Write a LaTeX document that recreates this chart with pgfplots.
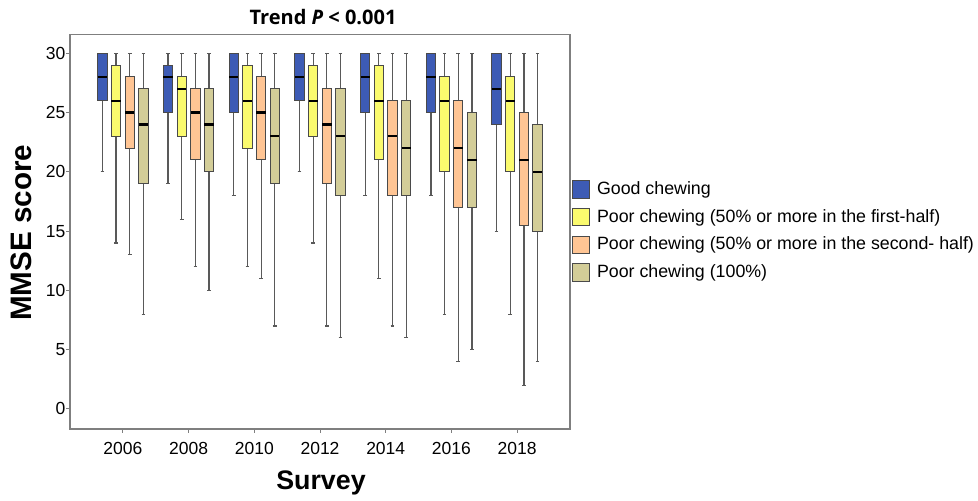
\documentclass[border=0pt]{standalone}
\usepackage{fontspec}
\setmainfont{Liberation Sans}
\newfontfamily\titlefont{Open Sans}
\usepackage{pgfplots}
\pgfplotsset{compat=1.18}
\usepgfplotslibrary{statistics}
\definecolor{cblue}{HTML}{3D5BB5}
\definecolor{cyel}{HTML}{FAFA6E}
\definecolor{cora}{HTML}{FFC594}
\definecolor{coli}{HTML}{D3CD98}
\definecolor{frame}{HTML}{7F7F7F}
\definecolor{bord}{HTML}{4A4A4A}
% colour, position, lower whisker, lower quartile, median, upper quartile, upper whisker
\newcommand{\bx}[7]{\addplot[forget plot, fill=#1, draw=bord, line width=0.5pt,
  boxplot prepared={draw position=#2, lower whisker=#3, lower quartile=#4,
  median=#5, upper quartile=#6, upper whisker=#7}] coordinates {};}
\begin{document}
\begin{tikzpicture}
\useasboundingbox (-35pt,-35.5pt) rectangle (454pt,214.5pt);
\begin{axis}[
  at={(0,0)}, anchor=south west,
  scale only axis, width=250pt, height=197.35pt,
  xmin=-0.805, xmax=6.805, ymin=-1.69, ymax=31.6,
  xtick={0,1,2,3,4,5,6},
  xticklabels={2006,2008,2010,2012,2014,2016,2018},
  ytick={0,5,10,15,20,25,30},
  /pgf/number format/assume math mode=true,
  ticklabel style={font=\fontsize{8.75}{10}\selectfont},
  xticklabel style={yshift=-1.2pt},
  yticklabel style={xshift=3pt},
  tick align=outside, major tick length=1.75pt,
  xtick pos=bottom, ytick pos=left,
  tick style={draw=frame, line width=0.5pt},
  axis line style={draw=frame, line width=0.6pt},
  xlabel={Survey}, ylabel={MMSE score},
  xlabel style={at={(axis description cs:0.502,-0.1545)}, anchor=base,
    font=\fontsize{13.4}{15}\selectfont\bfseries},
  ylabel style={at={(axis description cs:-0.0766,0.497)}, anchor=base,
    font=\fontsize{14.8}{16}\selectfont\bfseries},
  every axis title shift=0pt,
  title={\bfseries Trend \textit{P} < 0.001},
  title style={at={(axis description cs:0.506,1.0236)}, anchor=base, yshift=0pt,
    font=\titlefont\fontsize{10}{12}\selectfont},
  boxplot/draw direction=y,
  boxplot/box extend=0.142,
  boxplot/whisker extend=0.055,
  boxplot/every whisker/.style={draw=black!65, line width=0.6pt},
  boxplot/every median/.style={draw=black, line width=1.2pt},
  legend style={at={(1.0034,0.5015)}, anchor=west, draw=none, fill=none,
    inner sep=0pt, outer sep=0pt, row sep=4.6pt, column sep=3.35pt,
    font=\fontsize{8.9}{10}\selectfont, nodes={inner sep=0pt, outer sep=0pt}},
  legend cell align=left,
  legend image code/.code={\draw[#1, draw=bord, line width=0.5pt] (0pt,-4.4pt) rectangle (8.8pt,4.4pt);},
]
\addlegendimage{fill=cblue}\addlegendentry{Good chewing}
\addlegendimage{fill=cyel}\addlegendentry{Poor chewing (50\% or more in the first-half)}
\addlegendimage{fill=cora}\addlegendentry{Poor chewing (50\% or more in the second- half)}
\addlegendimage{fill=coli}\addlegendentry{Poor chewing (100\%)}
% 2006
\bx{cblue}{-0.312}{20}{26}{28}{30}{30}
\bx{cyel}{-0.104}{14}{23}{26}{29}{30}
\bx{cora}{0.104}{13}{22}{25}{28}{30}
\bx{coli}{0.312}{8}{19}{24}{27}{30}
% 2008
\bx{cblue}{0.688}{19}{25}{28}{29}{30}
\bx{cyel}{0.896}{16}{23}{27}{28}{30}
\bx{cora}{1.104}{12}{21}{25}{27}{30}
\bx{coli}{1.312}{10}{20}{24}{27}{30}
% 2010
\bx{cblue}{1.688}{18}{25}{28}{30}{30}
\bx{cyel}{1.896}{12}{22}{26}{29}{30}
\bx{cora}{2.104}{11}{21}{25}{28}{30}
\bx{coli}{2.312}{7}{19}{23}{27}{30}
% 2012
\bx{cblue}{2.688}{20}{26}{28}{30}{30}
\bx{cyel}{2.896}{14}{23}{26}{29}{30}
\bx{cora}{3.104}{7}{19}{24}{27}{30}
\bx{coli}{3.312}{6}{18}{23}{27}{30}
% 2014
\bx{cblue}{3.688}{18}{25}{28}{30}{30}
\bx{cyel}{3.896}{11}{21}{26}{29}{30}
\bx{cora}{4.104}{7}{18}{23}{26}{30}
\bx{coli}{4.312}{6}{18}{22}{26}{30}
% 2016
\bx{cblue}{4.688}{18}{25}{28}{30}{30}
\bx{cyel}{4.896}{8}{20}{26}{28}{30}
\bx{cora}{5.104}{4}{17}{22}{26}{30}
\bx{coli}{5.312}{5}{17}{21}{25}{30}
% 2018
\bx{cblue}{5.688}{15}{24}{27}{30}{30}
\bx{cyel}{5.896}{8}{20}{26}{28}{30}
\bx{cora}{6.104}{2}{15.5}{21}{25}{30}
\bx{coli}{6.312}{4}{15}{20}{24}{30}
\end{axis}
\end{tikzpicture}
\end{document}
